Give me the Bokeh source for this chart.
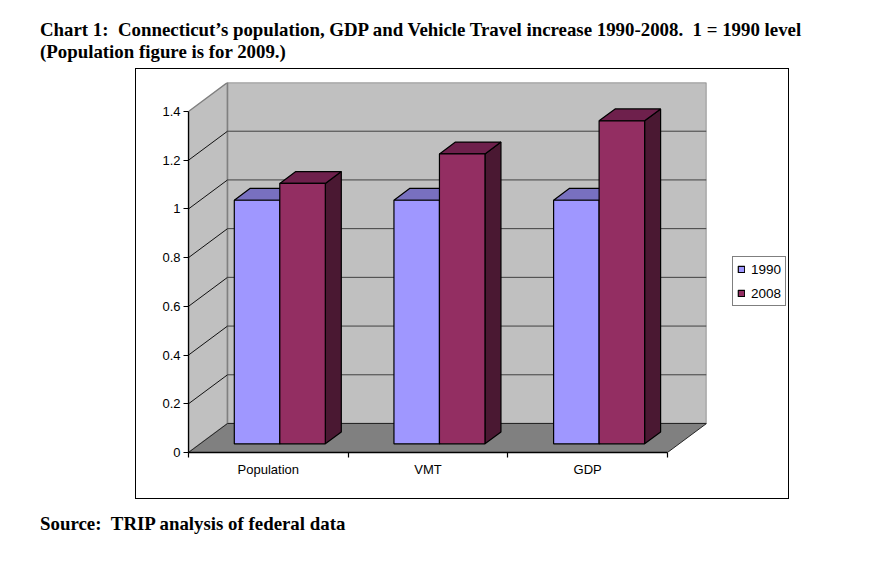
from bokeh.plotting import figure
from bokeh.layouts import column
from bokeh.models import Range1d, FixedTicker, LinearAxis, Legend, LegendItem, Div
from bokeh.embed import file_html
from bokeh.resources import INLINE

categories = ["Population", "VMT", "GDP"]
series_1990 = [1.0, 1.0, 1.0]
series_2008 = [1.069, 1.19, 1.326]
y_ticks = [0, 0.2, 0.4, 0.6, 0.8, 1, 1.2, 1.4]
y_tick_labels = ["0", "0.2", "0.4", "0.6", "0.8", "1", "1.2", "1.4"]
title_line_1 = "Chart 1:&nbsp;&nbsp;Connecticut\u2019s population, GDP and Vehicle Travel increase 1990-2008.&nbsp;&nbsp;1 = 1990 level"
title_line_2 = "(Population figure is for 2009.)"
source_text = "Source:&nbsp;&nbsp;TRIP analysis of federal data"

Y_TOP = y_ticks[-1]
N = len(categories)
DX = 39 / 159.5   # depth shift per unit of depth in x units
DY = 29 / 243.6   # depth shift in y units
GAP = 0.2135
BW = 0.285
Z0, Z1 = 0.30, 0.71

TEXT_STYLE = "font-family:'Liberation Serif';font-size:18.85px;font-weight:bold;color:black;line-height:22px;white-space:nowrap;"
BOX_STYLE = "position:absolute;left:95px;top:68px;width:654px;height:431px;box-sizing:border-box;border:1px solid black;pointer-events:none;z-index:10;"
title_div = Div(text=f"<div style=\"position:relative;{TEXT_STYLE}padding-top:19px\">{title_line_1}<br>{title_line_2}"
                     f"<div style=\"{BOX_STYLE}\"></div></div>",
                width=827, height=68, margin=(0, 0, 0, 40))
source_div = Div(text=f"<div style=\"{TEXT_STYLE}padding-top:14px\">{source_text}</div>",
                 width=827, height=50, margin=(0, 0, 0, 40))

p = figure(width=654, height=431, frame_width=518, frame_height=370, output_backend="svg", toolbar_location=None,
           x_range=Range1d(0, N + DX), y_range=Range1d(0, Y_TOP + DY),
           min_border_left=53, min_border_right=83, min_border_top=14, min_border_bottom=47,
           x_axis_type=None, y_axis_type=None, outline_line_color=None, margin=(0, 0, 0, 135))
p.grid.visible = False
p.background_fill_color = None
p.border_fill_color = None

def pr(x, y, z):
    return x + z * DX, y + z * DY

# walls
def poly(pts, **kw):
    xs = [pr(*q)[0] for q in pts]
    ys = [pr(*q)[1] for q in pts]
    return p.patch(xs, ys, **kw)

poly([(0, 0, 0), (0, 0, 1), (0, Y_TOP, 1), (0, Y_TOP, 0)], fill_color="#c0c0c0", line_color="#808080", line_width=1.5)
poly([(0, 0, 1), (N, 0, 1), (N, Y_TOP, 1), (0, Y_TOP, 1)], fill_color="#c0c0c0", line_color="#808080", line_width=1.5)
poly([(0, 0, 0), (N, 0, 0), (N, 0, 1), (0, 0, 1)], fill_color="#808080", line_color="#262626", line_width=1)

# gridlines
for t in y_ticks[1:-1]:
    a = pr(0, t, 0); b = pr(0, t, 1); c = pr(N, t, 1)
    p.line([a[0], b[0]], [a[1], b[1]], line_color="#111111", line_width=1)
    p.line([b[0], c[0]], [b[1], c[1]], line_color="#404040", line_width=1)

# bars
def bar_parts(values, offs):
    fr_l, fr_b, fr_r, fr_t = [], [], [], []
    top_x, top_y, side_x, side_y = [], [], [], []
    for i, v in enumerate(values):
        x0 = i + GAP + offs * BW
        x1 = x0 + BW
        a, b = pr(x0, 0, Z0), pr(x1, v, Z0)
        fr_l.append(a[0]); fr_b.append(a[1]); fr_r.append(b[0]); fr_t.append(b[1])
        tp = [pr(x0, v, Z0), pr(x1, v, Z0), pr(x1, v, Z1), pr(x0, v, Z1)]
        sd = [pr(x1, 0, Z0), pr(x1, 0, Z1), pr(x1, v, Z1), pr(x1, v, Z0)]
        top_x.append([q[0] for q in tp]); top_y.append([q[1] for q in tp])
        side_x.append([q[0] for q in sd]); side_y.append([q[1] for q in sd])
    return fr_l, fr_b, fr_r, fr_t, top_x, top_y, side_x, side_y

legend_items = []
for name, vals, k, front, top, side in [
    ("1990", series_1990, 0, "#9f97ff", "#7870c0", "#50508f"),
    ("2008", series_2008, 1, "#932e62", "#6e204c", "#4a1832"),
]:
    l, b, r, t, tx, ty, sx, sy = bar_parts(vals, k)
    p.patches(sx, sy, fill_color=side, line_color="black", line_width=1.2)
    p.patches(tx, ty, fill_color=top, line_color="black", line_width=1.2)
    rend = p.quad(left=l, right=r, bottom=b, top=t, fill_color=front, line_color="black", line_width=1.2)
    legend_items.append(LegendItem(label=name, renderers=[rend]))

# axes
yax = LinearAxis(ticker=FixedTicker(ticks=y_ticks), bounds=(0, Y_TOP),
                 major_label_overrides=dict(zip(y_ticks, y_tick_labels)))
yax.major_tick_out = 5; yax.major_tick_in = 0; yax.minor_tick_out = 0; yax.minor_tick_in = 0
yax.major_label_text_font = "Liberation Sans"; yax.major_label_text_font_size = "13px"
yax.major_label_text_color = "black"; yax.major_label_standoff = 3
yax.axis_line_color = "black"; yax.major_tick_line_color = "black"
yax.axis_line_width = 1.3; yax.major_tick_line_width = 1.2
p.add_layout(yax, "left")

centers = [i + 0.5 for i in range(N)]
xax = LinearAxis(ticker=FixedTicker(ticks=centers, minor_ticks=list(range(N + 1))), bounds=(0, N),
                 major_label_overrides=dict(zip(centers, categories)))
xax.major_tick_out = 0; xax.major_tick_in = 0; xax.minor_tick_out = 5; xax.minor_tick_in = 0
xax.major_label_text_font = "Liberation Sans"; xax.major_label_text_font_size = "13px"
xax.major_label_text_color = "black"; xax.major_label_standoff = 4
xax.axis_line_color = "black"; xax.minor_tick_line_color = "black"
xax.axis_line_width = 1.3; xax.minor_tick_line_width = 1.2
p.add_layout(xax, "below")

legend = Legend(items=legend_items, location=(26, 146), orientation="vertical")
legend.label_text_font = "Liberation Sans"; legend.label_text_font_size = "13.5px"; legend.label_text_color = "black"
legend.glyph_width = 8; legend.glyph_height = 8; legend.label_standoff = 6; legend.spacing = 8
legend.padding = 4; legend.margin = 0
legend.border_line_color = "black"; legend.border_line_width = 1.2; legend.background_fill_color = "white"
legend.label_height = 16
p.add_layout(legend, "right")

layout = column(title_div, p, source_div, spacing=0, margin=0)
open("out.html", "w").write(file_html(layout, INLINE))
